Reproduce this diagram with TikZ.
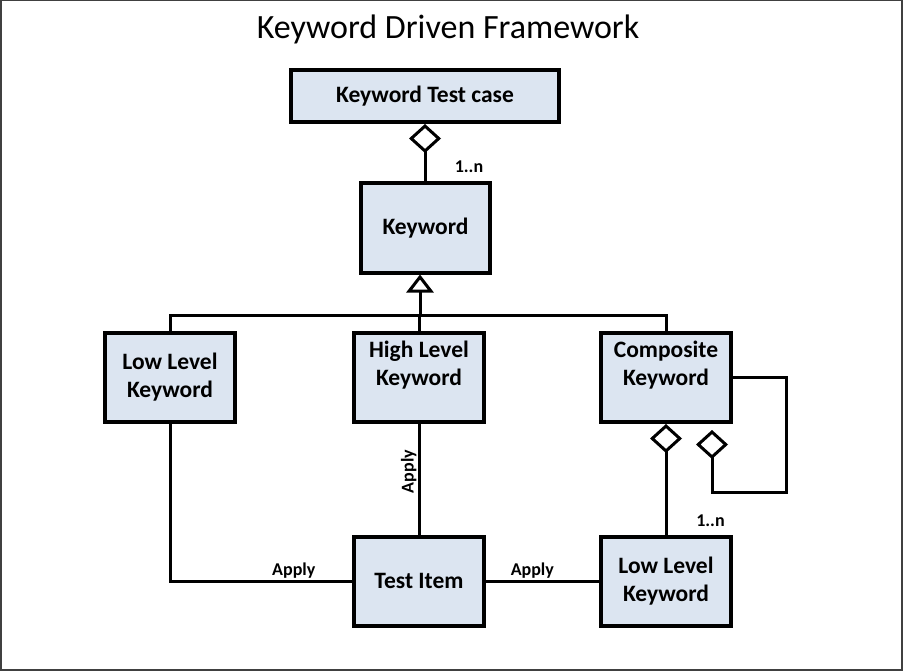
\documentclass[tikz,border=0pt]{standalone}
\usepackage{fontspec}
\setmainfont{Carlito}
\usetikzlibrary{arrows.meta}
\definecolor{boxblue}{RGB}{220,229,241}

\begin{document}
\begin{tikzpicture}[x=1pt,y=-1pt,
  box/.style={draw,line width=4pt,fill=boxblue,minimum width=130pt,minimum height=89pt,
    inner sep=0pt,align=center,font=\fontsize{23.5}{28}\selectfont\bfseries},
  link/.style={line width=3pt},
  agg/.style={link,-{Diamond[open,length=29pt,width=32pt]}},
  isa/.style={link,-{Triangle[open,length=18pt,width=27pt]}},
  lbl/.style={inner sep=1pt,font=\fontsize{18}{20}\selectfont\bfseries}]
  \useasboundingbox (0,0) rectangle (904,671);
  \draw[black!75,line width=1.5pt] (0.75,0.75) rectangle (902,669.8);
  \node[anchor=base,font=\fontsize{34}{40}\selectfont] (title) at (448,39) {Keyword Driven Framework};

  \node[box,minimum width=268pt,minimum height=52pt] (ktc) at (425,96) {Keyword Test case};
  \node[box,minimum width=129pt] (kw) at (425.5,228) {Keyword};
  \node[box] (llk) at (170,377.5) {Low Level\\Keyword};
  \node[box] (hlk) at (419,377.5) {High Level\\Keyword\\\mbox{}};
  \node[box] (cmp) at (666,377.5) {Composite\\Keyword\\\mbox{}};
  \node[box] (titem) at (419,581) {Test Item};
  \node[box] (llkb) at (666,581) {Low Level\\Keyword};

  \draw[agg] (kw.north -| ktc.south) -- (ktc.south);
  \node[lbl] (mult1) at (469,167) {1..n};

  \coordinate (bus) at (420,315);
  \draw[link] (llk.north) |- (cmp.north |- bus) -- (cmp.north);
  \draw[link] (hlk.north) -- (hlk.north |- bus);
  \draw[isa] (bus) -- (bus |- kw.south);

  \draw[agg] (llkb.north) -- (cmp.south);
  \node[lbl] (mult2) at (710.5,520.5) {1..n};
  \coordinate (loopc) at (786,492);
  \coordinate (loopend) at (712,430);
  \draw[agg] (cmp.east) -| (loopc) -| (loopend);

  \draw[link] (llk.south) |- (titem.west) node[lbl,pos=0.84,above] {Apply};
  \draw[link] (hlk.south) -- (titem.north) node[lbl,pos=0.43,rotate=90,anchor=south] {Apply};
  \draw[link] (titem.east) -- (llkb.west) node[lbl,pos=0.41,above] {Apply};
\end{tikzpicture}
\end{document}
